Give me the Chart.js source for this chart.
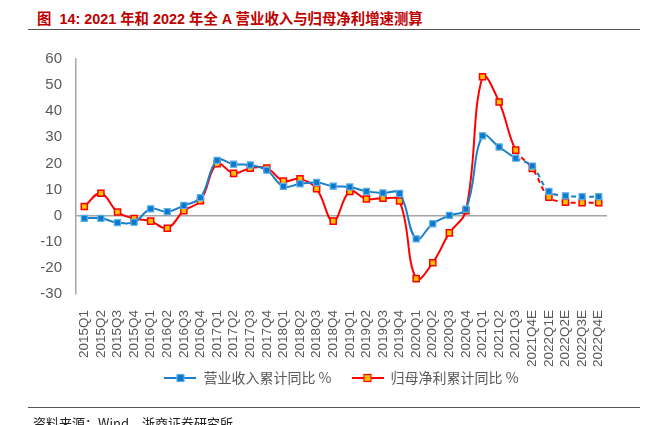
<!DOCTYPE html>
<html>
<head>
<meta charset="utf-8">
<script src="https://cdn.jsdelivr.net/npm/chart.js@4"></script>
<style>
  html, body { margin:0; padding:0; background:#fff; }
  body { width:657px; height:425px; position:relative; overflow:hidden; font-family:"Liberation Sans", Arial, "Noto Sans CJK SC", sans-serif; }
  #title { position:absolute; left:37px; top:7px; font-size:14.4px; font-weight:bold; color:#C00000; white-space:nowrap; }
  .rule { position:absolute; left:28px; width:612px; height:1px; background:#555; }
  #src { position:absolute; left:33px; top:413px; font-size:13px; color:#222; font-family:"Noto Sans CJK SC", sans-serif; white-space:nowrap; }
  #wrap { position:absolute; left:0; top:36px; width:657px; height:384px; }
</style>
</head>
<body>
<div id="title">图&nbsp; 14: 2021 年和 2022 年全 A 营业收入与归母净利增速测算</div>
<div class="rule" style="top:29px"></div>
<div id="wrap"><canvas id="c"></canvas></div>
<div class="rule" style="top:407px"></div>
<div id="src">资料来源：Wind，浙商证券研究所</div>
<script>
// quarters, last five are estimates
const quarters = ['2015Q1','2015Q2','2015Q3','2015Q4','2016Q1','2016Q2','2016Q3','2016Q4',
  '2017Q1','2017Q2','2017Q3','2017Q4','2018Q1','2018Q2','2018Q3','2018Q4',
  '2019Q1','2019Q2','2019Q3','2019Q4','2020Q1','2020Q2','2020Q3','2020Q4',
  '2021Q1','2021Q2','2021Q3','2021Q4E','2022Q1E','2022Q2E','2022Q3E','2022Q4E'];

// 营业收入累计同比 %
const revenue = [-1, -1, -2.7, -2.5, 2.6, 1.5, 3.9, 6.9,
  21.2, 19.7, 19.4, 17.4, 11.2, 12.2, 12.7, 11.3,
  11.0, 9.3, 8.7, 8.5, -8.9, -3.1, 0.1, 2.5,
  30.6, 26.3, 22.0, 19.0, 9.3, 7.6, 7.3, 7.3];

// 归母净利累计同比 %
const profit = [3.5, 8.6, 1.4, -1.1, -2.1, -4.8, 1.9, 5.7,
  19.9, 16.2, 18.2, 18.2, 13.3, 14.1, 10.3, -2.1,
  9.3, 6.4, 6.7, 5.6, -24.1, -18.0, -6.6, 1.9,
  53.2, 43.5, 25.1, 18.1, 7.1, 5.2, 5.0, 5.0];

const yTicks = [-30, -20, -10, 0, 10, 20, 30, 40, 50, 60];
const firstDashed = 26; // segments after 2021Q3 are forecasts

const BLUE = '#1B7EC8', RED = '#FF0000';
const dashSeg = ctx => ctx.p0DataIndex >= firstDashed ? [5, 4] : undefined;

// legend symbol: line with square marker in the middle
function legendIcon(line, fill, border){
  const cv = document.createElement('canvas');
  cv.width = 32; cv.height = 10;
  const g = cv.getContext('2d');
  g.strokeStyle = line; g.lineWidth = 2;
  g.beginPath(); g.moveTo(0,5); g.lineTo(32,5); g.stroke();
  g.fillStyle = fill; g.strokeStyle = border; g.lineWidth = 1.2;
  g.fillRect(12.5,1.5,7,7); g.strokeRect(12.5,1.5,7,7);
  return cv;
}
const icons = [legendIcon(BLUE,'#0A78CC','#5AAEE6'), legendIcon(RED,'#FFC000',RED)];

// center the legend under the plot area and pull it up close to the labels
const legendUnderPlot = {
  id: 'legendUnderPlot',
  afterLayout(chart){
    const lg = chart.legend;
    if(!lg) return;
    lg.left = chart.chartArea.left;
    lg.right = chart.chartArea.right;
    lg.top -= 21; lg.bottom -= 21;
  }
};

new Chart(document.getElementById('c'), {
  type: 'line',
  data: {
    labels: quarters,
    datasets: [
      { label: '营业收入累计同比 %', data: revenue, borderColor: BLUE, borderWidth: 2,
        pointStyle: 'rect', pointRadius: 4.3, pointBackgroundColor: '#0A78CC',
        pointBorderColor: '#5AAEE6', pointBorderWidth: 1.2, tension: 0.4,
        segment: { borderDash: dashSeg } },
      { label: '归母净利累计同比 %', data: profit, borderColor: RED, borderWidth: 2,
        pointStyle: 'rect', pointRadius: 4.3, pointBackgroundColor: '#FFC000',
        pointBorderColor: RED, pointBorderWidth: 1.5, tension: 0.4,
        segment: { borderDash: dashSeg } }
    ]
  },
  options: {
    responsive: true, maintainAspectRatio: false, animation: false,
    layout: { padding: { left: 14, right: 50, top: 1, bottom: 4 } },
    plugins: {
      tooltip: { enabled: false },
      legend: {
        position: 'bottom',
        labels: {
          usePointStyle: true, pointStyleWidth: 32, padding: 20,
          color: '#595959', font: { family: '"Noto Sans CJK SC", sans-serif', size: 14 },
          generateLabels(chart){
            const items = Chart.defaults.plugins.legend.labels.generateLabels(chart);
            items.forEach((it, i) => { it.pointStyle = icons[i]; });
            return items;
          }
        }
      }
    },
    scales: {
      x: {
        offset: true,
        grid: { display: false },
        border: { display: false },
        afterFit: s => { s.height = 78; },
        ticks: { color: '#595959', maxRotation: 90, minRotation: 90, autoSkip: false,
          font: { family: '"Liberation Sans", Arial, sans-serif', size: 13.5 }, padding: 8 }
      },
      y: {
        min: -30, max: 60,
        afterBuildTicks: s => { s.ticks = yTicks.map(v => ({ value: v })); },
        afterFit: s => { s.width = 62; },
        border: { display: true, color: '#A6A6A6', width: 1.5 },
        grid: { drawTicks: false, lineWidth: 1.5,
          color: c => c.tick && c.tick.value === 0 ? '#A6A6A6' : 'rgba(0,0,0,0)' },
        ticks: { color: '#595959', padding: 14,
          font: { family: '"Liberation Sans", Arial, sans-serif', size: 15 } }
      }
    }
  },
  plugins: [legendUnderPlot]
});
</script>
</body>
</html>
